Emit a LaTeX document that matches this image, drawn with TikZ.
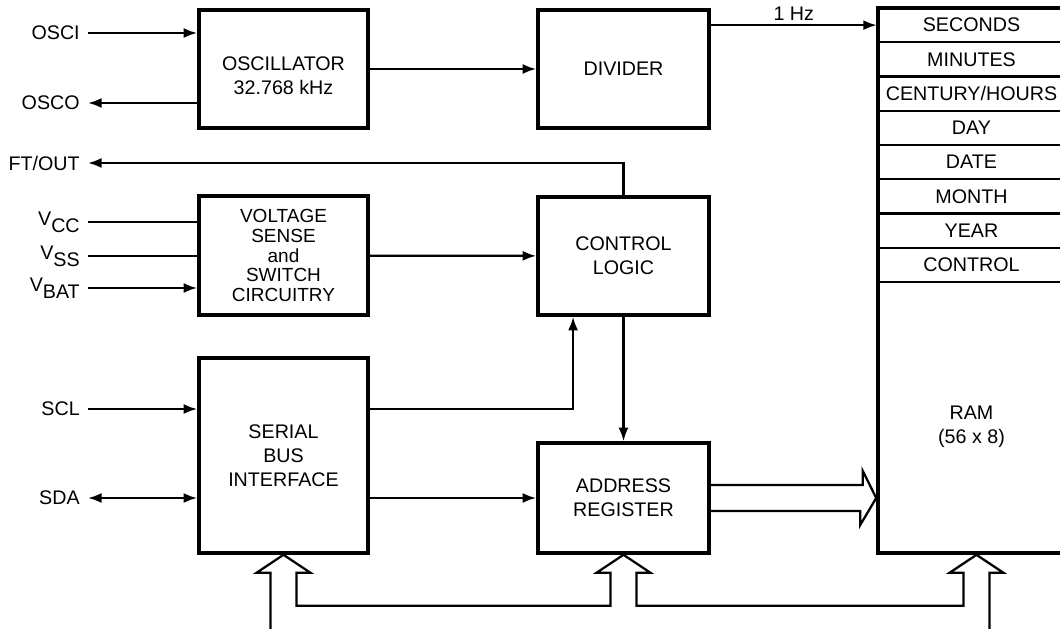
\documentclass[tikz,border=0pt]{standalone}
\usepackage{fontspec}
\setmainfont{Liberation Sans}
\usetikzlibrary{arrows.meta,positioning,calc}
\newcommand{\pinV}[1]{V\raisebox{-0.35em}{#1}}
\tikzset{
  every node/.style={font=\fontsize{14}{17}\selectfont},
  blk/.style={draw, line width=2.5pt, align=center, inner sep=0pt},
  reg/.style={draw, line width=1.6pt, inner sep=0pt, minimum width=4.675cm, minimum height=0.856cm},
  pinlbl/.style={inner sep=0pt},
  arr/.style={line width=1.6pt, -{Latex[length=0.34cm,width=0.25cm]}},
  arrs/.style={line width=1.6pt, {Latex[length=0.34cm,width=0.25cm]}-{Latex[length=0.34cm,width=0.25cm]}},
  wire/.style={line width=1.6pt},
  bus/.style={line width=1.6pt, line join=miter}
}
\begin{document}
\begin{tikzpicture}[x=0.025cm, y=-0.025cm]
  \useasboundingbox (0,0) rectangle (1060,629);
  \clip (0,0) rectangle (1060,629);

  \node[blk, minimum width=4.225cm, minimum height=2.95cm, text height=1.25cm, text depth=0pt] (osc) at (283.5,69) {OSCILLATOR\\32.768 kHz};
  \node[blk, minimum width=4.275cm, minimum height=2.95cm] (div) at (623.5,69) {DIVIDER};
  \node[blk, minimum width=4.225cm, minimum height=2.975cm, font=\fontsize{13.5}{14}\selectfont] (volt) at (283.5,255.5) {VOLTAGE\\SENSE\\and\\SWITCH\\CIRCUITRY};
  \node[blk, minimum width=4.275cm, minimum height=2.95cm] (ctrl) at (623.5,256) {CONTROL\\LOGIC};
  \node[blk, minimum width=4.225cm, minimum height=4.875cm] (sbi) at (283.5,455.5) {SERIAL\\BUS\\INTERFACE};
  \node[blk, minimum width=4.275cm, minimum height=2.75cm] (addr) at (623.5,498) {ADDRESS\\REGISTER};

  \foreach \t [count=\i] in {SECONDS,MINUTES,CENTURY/HOURS,DAY,DATE,MONTH,YEAR,CONTROL}
    \node[reg] (r\i) at (971.5,{8+34.25*(\i-0.5)}) {\t};
  \node[draw, line width=2.5pt, inner sep=0pt, minimum width=4.675cm, minimum height=13.625cm] (ram) at (971.5,280.5) {};
  \node[align=center] (ramlbl) at (971.5,427) {RAM\\(56 x 8)};

  \coordinate (pOSCI) at (88,33);
  \coordinate (pOSCO) at (88,103);
  \coordinate (pFT) at (88,163);
  \coordinate (pVCC) at (88,222);
  \coordinate (pVSS) at (88,256);
  \coordinate (pVBAT) at (88,288);
  \coordinate (pSCL) at (88,409);
  \coordinate (pSDA) at (88,498);
  \node[pinlbl, left=0.2cm of pOSCI] (lOSCI) {OSCI};
  \node[pinlbl, left=0.2cm of pOSCO] (lOSCO) {OSCO};
  \node[pinlbl, left=0.2cm of pFT] (lFT) {FT/OUT};
  \node[pinlbl, left=0.2cm of pVCC] (lVCC) {\pinV{CC}};
  \node[pinlbl, left=0.2cm of pVSS] (lVSS) {\pinV{SS}};
  \node[pinlbl, left=0.2cm of pVBAT] (lVBAT) {\pinV{BAT}};
  \node[pinlbl, left=0.2cm of pSCL] (lSCL) {SCL};
  \node[pinlbl, left=0.2cm of pSDA] (lSDA) {SDA};

  \draw[arr] (pOSCI) -- (pOSCI -| osc.west);
  \draw[arr] (pOSCO -| osc.west) -- (pOSCO);
  \draw[arr] (osc.east |- div) -- (div.west);
  \draw[arr] (div.east |- r1) -- node[midway, above, inner sep=2.5pt] (hz) {1 Hz} (r1.west);
  \draw[arr] (ctrl.north) |- (pFT);
  \draw[wire] (pVCC) -- (pVCC -| volt.west);
  \draw[wire] (pVSS) -- (pVSS -| volt.west);
  \draw[arr] (pVBAT) -- (pVBAT -| volt.west);
  \draw[arr] (volt) -- (ctrl);
  \draw[arr] (pSCL) -- (pSCL -| sbi.west);
  \draw[arr] (pSCL -| sbi.east) -| ([xshift=-1.26cm]ctrl.south);
  \draw[arr] (ctrl) -- (addr);
  \draw[arrs] (pSDA) -- (pSDA -| sbi.west);
  \draw[arr] (sbi.east |- addr) -- (addr.west);

  \draw[bus] (addr.east) ++(0,-13) -- ++(152,0) -- ++(0,-14) -- (ram.west |- addr) -- ++(-16,27) -- ++(0,-14) -- ++(-152,0);
  \draw[bus] ($(sbi.south)+(-13,76)$) -- ++(0,-58) -- ++(-14,0) -- (sbi.south) -- ++(27,18) -- ++(-14,0) -- ++(0,33)
    -- ($(addr.south)+(-13,51)$) -- ++(0,-33) -- ++(-14,0) -- (addr.south) -- ++(27,18) -- ++(-14,0) -- ++(0,33)
    -- ($(ram.south)+(-8,51)$) -- ++(0,-33) -- ++(-14,0) -- ($(ram.south)+(5,0)$) -- ++(27,18) -- ++(-14,0) -- ++(0,58);
\end{tikzpicture}
\end{document}
